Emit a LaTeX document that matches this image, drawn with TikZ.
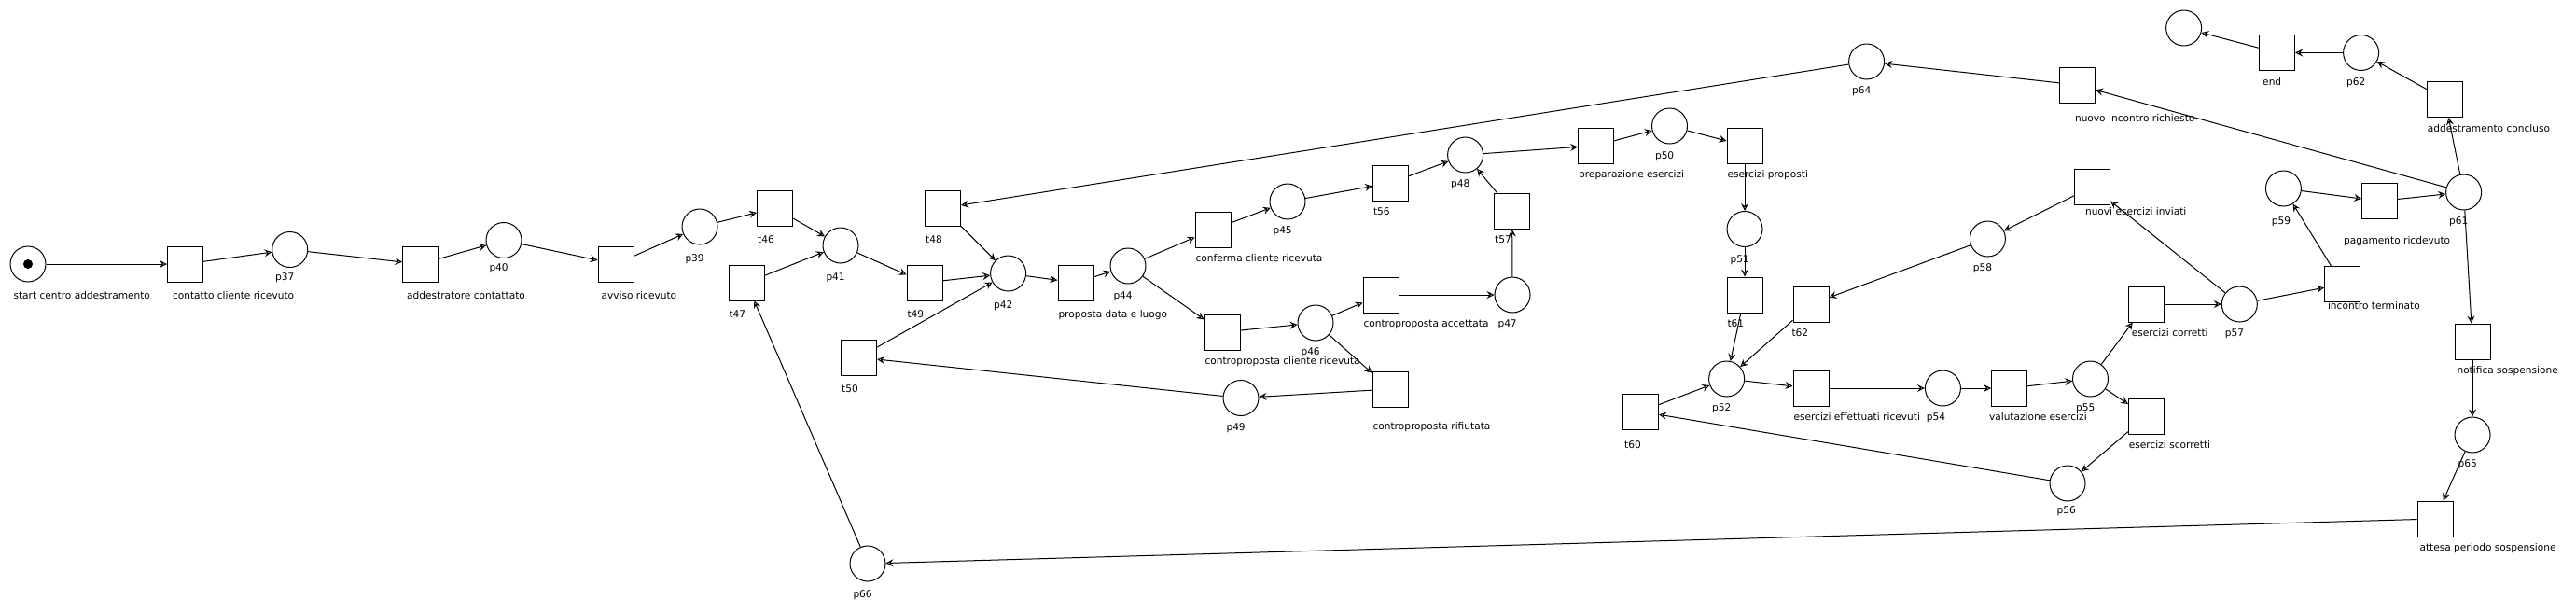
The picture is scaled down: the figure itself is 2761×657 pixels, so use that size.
\documentclass[tikz,border=0pt]{standalone}
\usepackage{fontspec}
\setmainfont{DejaVu Sans}
\usepackage{tikz}
\usetikzlibrary{arrows.meta}

\begin{document}
\begin{tikzpicture}[
  x=1pt, y=-1pt,
  font=\fontsize{10.6}{12}\selectfont,
  line width=1pt,
  label distance=15pt,
  place/.style={circle, draw, minimum size=38pt, inner sep=0pt},
  trans/.style={draw, minimum size=38pt, inner sep=0pt},
  pl/.style={inner sep=0pt, anchor=base west, xshift=-16pt},
  tl/.style={inner sep=0pt, anchor=base west, xshift=-19pt},
  arr/.style={-{Stealth[open, length=8pt, width=8pt, inset=3pt]}}
]
\useasboundingbox (0,0) rectangle (2761,657);

\node[place, label={[pl, yshift=-3pt]below:start centro addestramento}] (start) at (30,283) {};
\fill (start) circle[radius=5pt];
\node[trans, label={[tl, xshift=5pt, yshift=-3pt]below:contatto cliente ricevuto}] (contatto) at (198.5,283) {};
\node[place, label={[pl, yshift=2pt]below:p37}] (p37) at (310.7,267.5) {};
\node[trans, label={[tl, xshift=4pt, yshift=-3pt]below:addestratore contattato}] (addcont) at (450.6,283) {};
\node[place, label={[pl, yshift=2pt]below:p40}] (p40) at (540,257.5) {};
\node[trans, label={[tl, xshift=3pt, yshift=-3pt]below:avviso ricevuto}] (avviso) at (660,283) {};
\node[place, label={[pl, yshift=-3pt]below:p39}] (p39) at (750,243) {};
\node[trans, label={[tl, yshift=-3pt]below:t46}] (t46) at (830.6,223) {};
\node[trans, label={[tl, yshift=-3pt]below:t47}] (t47) at (800,303) {};
\node[place, label={[pl, yshift=-3pt]below:p41}] (p41) at (901,263) {};
\node[trans, label={[tl, yshift=-3pt]below:t48}] (t48) at (1010.6,223) {};
\node[trans, label={[tl, yshift=-3pt]below:t49}] (t49) at (991,303) {};
\node[trans, label={[tl, yshift=-3pt]below:t50}] (t50) at (920.6,383) {};
\node[place, label={[pl, yshift=-3pt]below:p42}] (p42) at (1080.6,293) {};
\node[trans, label={[tl, yshift=-3pt]below:proposta data e luogo}] (proposta) at (1153,303) {};
\node[place, label={[pl, yshift=-1pt]below:p44}] (p44) at (1209,285) {};
\node[trans, label={[tl]below:conferma cliente ricevuta}] (conferma) at (1300,246) {};
\node[place, label={[pl]below:p45}] (p45) at (1380,216) {};
\node[trans, label={[tl]below:controproposta cliente ricevuta}] (cpcliente) at (1310,356) {};
\node[place, label={[pl]below:p46}] (p46) at (1410,346) {};
\node[trans, label={[tl]below:controproposta accettata}] (cpaccettata) at (1480,316) {};
\node[place, label={[pl]below:p47}] (p47) at (1621,316) {};
\node[trans, label={[tl, yshift=-9pt]below:controproposta rifiutata}] (cprifiutata) at (1490,417) {};
\node[place, label={[pl]below:p49}] (p49) at (1330,426.5) {};
\node[trans, label={[tl]below:t56}] (t56) at (1490.5,196) {};
\node[place, label={[pl]below:p48}] (p48) at (1570.6,166) {};
\node[trans, label={[tl]below:t57}] (t57) at (1620.6,226) {};
\node[trans, label={[tl]below:preparazione esercizi}] (preparazione) at (1710.6,156) {};
\node[place, label={[pl, yshift=-1pt]below:p50}] (p50) at (1789.5,135) {};
\node[trans, label={[tl]below:esercizi proposti}] (proposti) at (1870,156) {};
\node[place, label={[pl, yshift=-1pt]below:p51}] (p51) at (1870,245.5) {};
\node[trans, label={[tl]below:t61}] (t61) at (1870,316) {};
\node[trans, label={[tl, xshift=-2pt]below:t62}] (t62) at (1941,326) {};
\node[place, label={[pl]below:p52}] (p52) at (1850.6,406) {};
\node[trans, label={[tl, xshift=1pt, yshift=-5pt]below:t60}] (t60) at (1758.6,441) {};
\node[trans, label={[tl]below:esercizi effettuati ricevuti}] (effettuati) at (1941,416) {};
\node[place, label={[pl, xshift=-2pt]below:p54}] (p54) at (2082.4,416) {};
\node[trans, label={[tl, xshift=-3pt]below:valutazione esercizi}] (valutazione) at (2153.5,416) {};
\node[place, label={[pl]below:p55}] (p55) at (2240.5,406) {};
\node[trans, label={[tl, xshift=3pt]below:esercizi corretti}] (corretti) at (2300.4,326) {};
\node[trans, label={[tl]below:esercizi scorretti}] (scorretti) at (2300.4,446) {};
\node[place, label={[pl, xshift=4pt, yshift=2pt]below:p56}] (p56) at (2216,518) {};
\node[place, label={[pl]below:p57}] (p57) at (2400.3,326) {};
\node[trans, label={[tl, xshift=11pt, yshift=4pt]below:nuovi esercizi inviati}] (nuovies) at (2242.5,200) {};
\node[place, label={[pl]below:p58}] (p58) at (2130.4,256) {};
\node[trans, label={[tl, xshift=3pt, yshift=8pt]below:incontro terminato}] (terminato) at (2510.5,304.5) {};
\node[place, label={[pl, xshift=3pt, yshift=-4pt]below:p59}] (p59) at (2447.4,202) {};
\node[trans, label={[tl, xshift=-20pt, yshift=-11pt]below:pagamento ricdevuto}] (pagamento) at (2550.6,215.5) {};
\node[place, label={[pl]below:p61}] (p61) at (2640.6,206) {};
\node[trans, label={[tl, xshift=16pt, yshift=-5pt]below:nuovo incontro richiesto}] (nuovoinc) at (2226.5,91) {};
\node[place, label={[pl]below:p64}] (p64) at (2000.6,66) {};
\node[trans, label={[tl]below:addestramento concluso}] (concluso) at (2620.4,106.5) {};
\node[place, label={[pl]below:p62}] (p62) at (2530.6,56.5) {};
\node[trans, label={[tl, xshift=3pt]below:end}] (tend) at (2440.7,56.5) {};
\node[place] (pfine) at (2340.6,30) {};
\node[trans, label={[tl, xshift=2pt]below:notifica sospensione}] (notifica) at (2650,366) {};
\node[place, label={[pl]below:p65}] (p65) at (2650,466) {};
\node[trans, label={[tl, xshift=2pt]below:attesa periodo sospensione}] (attesa) at (2610,556) {};
\node[place, label={[pl, yshift=-2pt]below:p66}] (p66) at (930,604) {};

\draw[arr] (start) -- (contatto);
\draw[arr] (contatto) -- (p37);
\draw[arr] (p37) -- (addcont);
\draw[arr] (addcont) -- (p40);
\draw[arr] (p40) -- (avviso);
\draw[arr] (avviso) -- (p39);
\draw[arr] (p39) -- (t46);
\draw[arr] (t46) -- (p41);
\draw[arr] (t47) -- (p41);
\draw[arr] (p41) -- (t49);
\draw[arr] (t49) -- (p42);
\draw[arr] (t48) -- (p42);
\draw[arr] (t50) -- (p42);
\draw[arr] (p42) -- (proposta);
\draw[arr] (proposta) -- (p44);
\draw[arr] (p44) -- (conferma);
\draw[arr] (p44) -- (cpcliente);
\draw[arr] (conferma) -- (p45);
\draw[arr] (p45) -- (t56);
\draw[arr] (t56) -- (p48);
\draw[arr] (t57) -- (p48);
\draw[arr] (p47) -- (t57);
\draw[arr] (cpcliente) -- (p46);
\draw[arr] (p46) -- (cpaccettata);
\draw[arr] (p46) -- (cprifiutata);
\draw[arr] (cpaccettata) -- (p47);
\draw[arr] (cprifiutata) -- (p49);
\draw[arr] (p49) -- (t50);
\draw[arr] (p48) -- (preparazione);
\draw[arr] (preparazione) -- (p50);
\draw[arr] (p50) -- (proposti);
\draw[arr] (proposti) -- (p51);
\draw[arr] (p51) -- (t61);
\draw[arr] (t61) -- (p52);
\draw[arr] (t62) -- (p52);
\draw[arr] (t60) -- (p52);
\draw[arr] (p52) -- (effettuati);
\draw[arr] (effettuati) -- (p54);
\draw[arr] (p54) -- (valutazione);
\draw[arr] (valutazione) -- (p55);
\draw[arr] (p55) -- (corretti);
\draw[arr] (p55) -- (scorretti);
\draw[arr] (scorretti) -- (p56);
\draw[arr] (p56) -- (t60);
\draw[arr] (corretti) -- (p57);
\draw[arr] (p57) -- (nuovies);
\draw[arr] (p57) -- (terminato);
\draw[arr] (nuovies) -- (p58);
\draw[arr] (p58) -- (t62);
\draw[arr] (terminato) -- (p59);
\draw[arr] (p59) -- (pagamento);
\draw[arr] (pagamento) -- (p61);
\draw[arr] (p61) -- (nuovoinc);
\draw[arr] (p61) -- (concluso);
\draw[arr] (p61) -- (notifica);
\draw[arr] (nuovoinc) -- (p64);
\draw[arr] (p64) -- (t48);
\draw[arr] (concluso) -- (p62);
\draw[arr] (p62) -- (tend);
\draw[arr] (tend) -- (pfine);
\draw[arr] (notifica) -- (p65);
\draw[arr] (p65) -- (attesa);
\draw[arr] (attesa) -- (p66);
\draw[arr] (p66) -- (t47);
\end{tikzpicture}
\end{document}
